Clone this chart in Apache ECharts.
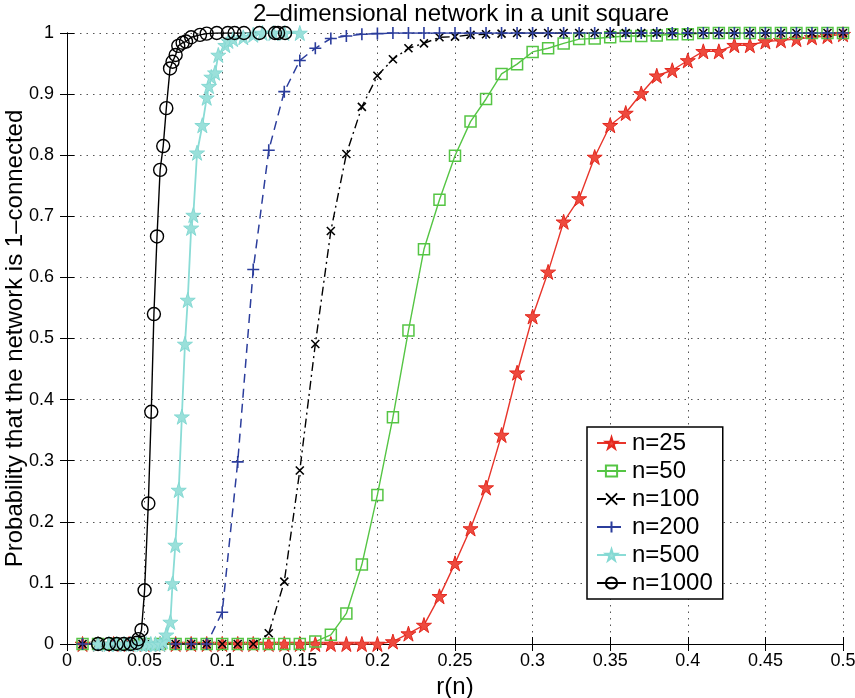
<!DOCTYPE html>
<html>
<head>
<meta charset="utf-8">
<script src="https://cdn.jsdelivr.net/npm/echarts@6/dist/echarts.min.js"></script>
<style>
  html, body { margin: 0; padding: 0; background: #fff; }
  #chart { width: 855px; height: 698px; }
</style>
</head>
<body>
<div id="chart"></div>
<script>
// Shared radius grid used by the n=25, 50, 100 and 200 runs
const rGrid = [0.01, 0.02, 0.03, 0.04, 0.05, 0.06, 0.07, 0.08, 0.09, 0.10,
               0.11, 0.12, 0.13, 0.14, 0.15, 0.16, 0.17, 0.18, 0.19, 0.20,
               0.21, 0.22, 0.23, 0.24, 0.25, 0.26, 0.27, 0.28, 0.29, 0.30,
               0.31, 0.32, 0.33, 0.34, 0.35, 0.36, 0.37, 0.38, 0.39, 0.40,
               0.41, 0.42, 0.43, 0.44, 0.45, 0.46, 0.47, 0.48, 0.49, 0.50];

const p25 = [0, 0, 0, 0, 0, 0, 0, 0, 0, 0,
             0, 0, 0, 0, 0, 0, 0, 0, 0, 0,
             0.004, 0.017, 0.031, 0.078, 0.132, 0.189, 0.256, 0.342, 0.444, 0.536,
             0.609, 0.691, 0.729, 0.797, 0.849, 0.869, 0.901, 0.930, 0.939, 0.955,
             0.970, 0.970, 0.980, 0.980, 0.986, 0.988, 0.990, 0.993, 0.995, 0.998];

const p50 = [0, 0, 0, 0, 0, 0, 0, 0, 0, 0,
             0, 0, 0, 0, 0, 0.004, 0.015, 0.050, 0.130, 0.244,
             0.371, 0.513, 0.646, 0.727, 0.799, 0.855, 0.892, 0.933, 0.949, 0.969,
             0.975, 0.983, 0.990, 0.991, 0.993, 0.995, 0.995, 0.996, 0.998, 0.998,
             1, 1, 1, 1, 1, 1, 1, 1, 1, 1];

const p100 = [0, 0, 0, 0, 0, 0, 0, 0, 0, 0,
              0, 0, 0.0175, 0.102, 0.284, 0.491, 0.676, 0.802, 0.879, 0.930,
              0.957, 0.975, 0.983, 0.993, 0.994, 0.997, 0.998, 0.999, 1, 1,
              1, 1, 1, 1, 1, 1, 1, 1, 1, 1,
              1, 1, 1, 1, 1, 1, 1, 1, 1, 1];

const p200 = [0, 0, 0, 0, 0, 0, 0, 0, 0, 0.052,
              0.298, 0.613, 0.808, 0.904, 0.955, 0.975, 0.991, 0.995, 0.998, 0.999,
              1, 1, 1, 1, 1, 1, 1, 1, 1, 1,
              1, 1, 1, 1, 1, 1, 1, 1, 1, 1,
              1, 1, 1, 1, 1, 1, 1, 1, 1, 1];

// The n=500 and n=1000 runs were sampled more densely around the transition
const r500 = [0.02, 0.027, 0.032, 0.037, 0.041, 0.045, 0.048, 0.051, 0.054, 0.057,
              0.060, 0.062, 0.064, 0.0666, 0.068, 0.0698, 0.072, 0.074, 0.076, 0.0778,
              0.080, 0.0814, 0.0838, 0.0872, 0.090, 0.0915, 0.093, 0.0954, 0.0975, 0.102,
              0.104, 0.107, 0.1136, 0.120, 0.126, 0.133, 0.140, 0.150];
const p500 = [0, 0, 0, 0, 0, 0, 0, 0, 0, 0,
              0, 0.004, 0.015, 0.036, 0.099, 0.162, 0.252, 0.372, 0.491, 0.563,
              0.681, 0.702, 0.804, 0.849, 0.894, 0.913, 0.928, 0.935, 0.964, 0.980,
              0.987, 0.990, 0.993, 0.997, 1, 1, 1, 1];

const r1000 = [0.02, 0.027, 0.032, 0.0365, 0.041, 0.045, 0.046, 0.048, 0.050, 0.0524,
               0.0543, 0.056, 0.058, 0.060, 0.062, 0.064, 0.0664, 0.068, 0.070, 0.0717,
               0.0745, 0.0767, 0.080, 0.0857, 0.090, 0.0965, 0.1036, 0.108, 0.114, 0.124,
               0.134, 0.136, 0.1405];
const p1000 = [0, 0, 0, 0, 0, 0.002, 0.008, 0.023, 0.088, 0.230,
               0.380, 0.540, 0.667, 0.776, 0.815, 0.877, 0.942, 0.953, 0.964, 0.979,
               0.984, 0.986, 0.993, 0.997, 0.999, 1, 1, 1, 1, 1,
               1, 1, 1];

const xTicks = { min: 0, max: 0.5, interval: 0.05 };
const yTicks = { min: 0, max: 1, interval: 0.1 };

const seriesNames = ['n=25', 'n=50', 'n=100', 'n=200', 'n=500', 'n=1000'];

function pairs(xs, ys) {
  return xs.map((x, i) => [x, ys[i]]);
}

const STAR = 'path://M0,-1L0.2245,-0.309L0.951,-0.309L0.363,0.118L0.588,0.809L0,0.382L-0.588,0.809L-0.363,0.118L-0.951,-0.309L-0.2245,-0.309Z';
const CROSS = 'path://M0,0L10,10M0,10L10,0';
const PLUS = 'path://M5,0L5,10M0,5L10,5';

const FONT = 'Liberation Sans';

function lineSeries(name, data, color, opts) {
  return Object.assign({
    name: name,
    type: 'line',
    data: data,
    showAllSymbol: true,
    animation: false,
    lineStyle: { color: color, width: 1.4, type: 'solid' },
    itemStyle: { color: color, borderColor: color, borderWidth: 1 },
    emphasis: { disabled: true }
  }, opts);
}

const chart = echarts.init(document.getElementById('chart'), null, { renderer: 'canvas' });

const gridBox = { left: 67, top: 33, width: 776, height: 611, containLabel: false, outerBoundsMode: 'none' };

const axisCommon = {
  axisLine: { show: true, lineStyle: { color: '#000', width: 1 } },
  axisTick: { show: true, inside: true, length: 7, lineStyle: { color: '#000' } },
  splitLine: { show: false },
  axisLabel: { show: false }
};

chart.setOption({
  backgroundColor: '#fff',
  animation: false,
  title: {
    text: '2\u2013dimensional network in a unit square',
    left: 456, top: -3, textAlign: 'center',
    textStyle: { fontFamily: FONT, fontSize: 24, fontWeight: 'normal', color: '#000' }
  },
  grid: gridBox,
  legend: {
    data: seriesNames,
    orient: 'vertical',
    left: 587, top: 427,
    width: 140,
    padding: [4, 10, 4, 9],
    itemWidth: 29, itemHeight: 14, itemGap: 4,
    backgroundColor: '#fff',
    borderColor: '#000', borderWidth: 1.5,
    textStyle: { fontFamily: FONT, fontSize: 24, lineHeight: 24, color: '#000', padding: [0, 0, 0, 1] }
  },
  xAxis: [
    {
      type: 'value', position: 'bottom',
      min: xTicks.min, max: xTicks.max, interval: xTicks.interval,
      name: 'r(n)', nameLocation: 'middle', nameGap: 27,
      nameTextStyle: { fontFamily: FONT, fontSize: 24, color: '#000' },
      axisLine: { show: true, lineStyle: { color: '#000', width: 1 } },
      axisTick: { show: true, inside: true, length: 7, lineStyle: { color: '#000' } },
      axisLabel: { show: true, fontFamily: FONT, fontSize: 18, color: '#000', margin: 8 },
      splitLine: { show: true, lineStyle: { color: '#555', type: [1.5, 5], width: 1 } }
    },
    Object.assign({
      type: 'value', position: 'top',
      min: xTicks.min, max: xTicks.max, interval: xTicks.interval
    }, axisCommon)
  ],
  yAxis: [
    {
      type: 'value', position: 'left',
      min: yTicks.min, max: yTicks.max, interval: yTicks.interval,
      name: 'Probability that the network is 1\u2013connected',
      nameLocation: 'middle', nameGap: 40, nameMoveOverlap: false,
      nameTextStyle: { fontFamily: FONT, fontSize: 24, color: '#000' },
      axisLine: { show: true, lineStyle: { color: '#000', width: 1 } },
      axisTick: { show: true, inside: true, length: 7, lineStyle: { color: '#000' } },
      axisLabel: { show: true, fontFamily: FONT, fontSize: 18, color: '#000', margin: 13 },
      splitLine: { show: true, lineStyle: { color: '#555', type: [1.5, 5], width: 1 } }
    },
    Object.assign({
      type: 'value', position: 'right',
      min: yTicks.min, max: yTicks.max, interval: yTicks.interval
    }, axisCommon)
  ],
  series: [
    lineSeries('n=25', pairs(rGrid, p25), '#e8352b', {
      symbol: STAR, symbolSize: 15,
      itemStyle: { color: '#ee4a3e', borderColor: '#e3271d', borderWidth: 1 }
    }),
    lineSeries('n=50', pairs(rGrid, p50), '#55c544', {
      symbol: 'rect', symbolSize: 11,
      itemStyle: { color: 'rgba(255,255,255,0)', borderColor: '#55c544', borderWidth: 1.5 }
    }),
    lineSeries('n=100', pairs(rGrid, p100), '#000000', {
      symbol: CROSS, symbolSize: 8,
      lineStyle: { color: '#000', width: 1.4, type: [9, 4, 2, 4] },
      itemStyle: { color: 'rgba(0,0,0,0)', borderColor: '#000', borderWidth: 1.6 }
    }),
    lineSeries('n=200', pairs(rGrid, p200), '#2b3d9c', {
      symbol: PLUS, symbolSize: 12,
      lineStyle: { color: '#2b3d9c', width: 1.5, type: [9, 6] },
      itemStyle: { color: 'rgba(0,0,0,0)', borderColor: '#2b3d9c', borderWidth: 1.6 }
    }),
    lineSeries('n=500', pairs(r500, p500), '#8adcd6', {
      symbol: STAR, symbolSize: 15,
      lineStyle: { color: '#8adcd6', width: 1.8 },
      itemStyle: { color: '#9ae0da', borderColor: '#84d9d3', borderWidth: 1 }
    }),
    lineSeries('n=1000', pairs(r1000, p1000), '#000000', {
      symbol: 'circle', symbolSize: 13,
      itemStyle: { color: 'rgba(255,255,255,0)', borderColor: '#000', borderWidth: 1.4 }
    })
  ]
});
</script>
</body>
</html>
